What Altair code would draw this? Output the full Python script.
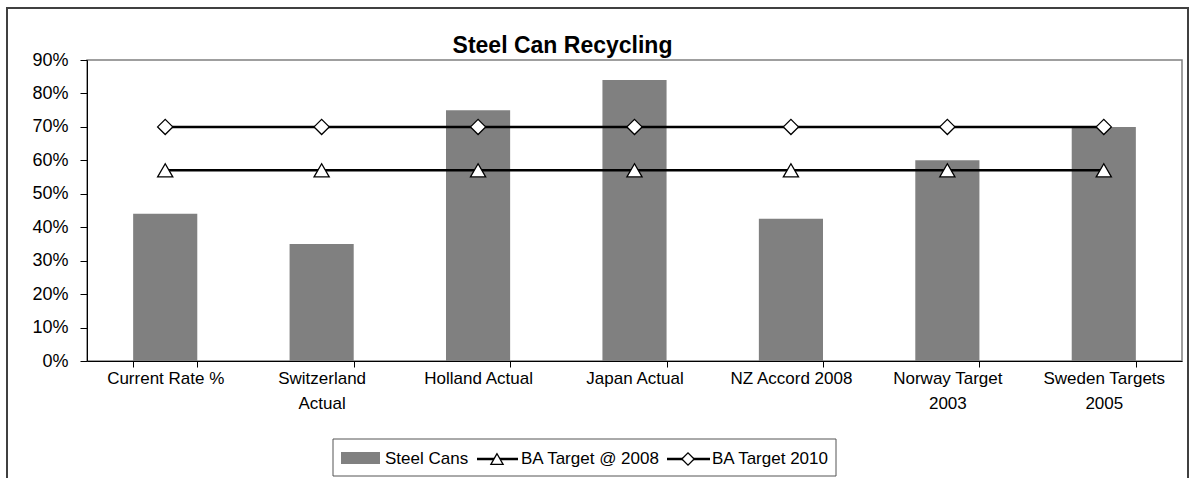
import altair as alt
import pandas as pd

categories = ["Current Rate %", "Switzerland Actual", "Holland Actual", "Japan Actual",
              "NZ Accord 2008", "Norway Target 2003", "Sweden Targets 2005"]
steel_cans = [0.44, 0.35, 0.75, 0.84, 0.425, 0.60, 0.70]
ba_target_2008 = [0.57] * 7
ba_target_2010 = [0.70] * 7
y_ticks = [0.0, 0.1, 0.2, 0.3, 0.4, 0.5, 0.6, 0.7, 0.8, 0.9]

df = pd.DataFrame({
    "category": categories,
    "steel": steel_cans,
    "t2008": ba_target_2008,
    "t2010": ba_target_2010,
})

FONT = "Liberation Sans"
W, H = 1095, 301

xscale = alt.Scale(paddingInner=0.59, paddingOuter=0.295)
xaxis = alt.Axis(title=None, labelAngle=0, labelFont=FONT, labelFontSize=17,
                 labelColor="black", domainColor="black", tickColor="black",
                 tickSize=6, tickBand="extent", labelPadding=3, labelLineHeight=25,
                 labelExpr="length(datum.label) > 15 ? [substring(datum.label, 0, lastindexof(datum.label, ' ')), substring(datum.label, lastindexof(datum.label, ' ') + 1)] : datum.label")
yscale = alt.Scale(domain=[0, 0.9], nice=False)
yaxis = alt.Axis(title=None, format=".0%", values=y_ticks, grid=False, labelOverlap=False,
                 labelFont=FONT, labelFontSize=18, labelColor="black", domainColor="black",
                 tickColor="black", tickSize=7, labelPadding=12)

X = alt.X("category:N", sort=categories, scale=xscale, axis=xaxis)

def Y(field):
    return alt.Y(field, scale=yscale, axis=yaxis)

base = alt.Chart(df)

bars = base.mark_bar(color="#808080").encode(x=X, y=Y("steel:Q"))

line08 = base.mark_line(color="black", strokeWidth=2.5).encode(x=X, y=Y("t2008:Q"))
pts08 = base.mark_point(shape="triangle-up", filled=True, fill="white", stroke="black",
                        strokeWidth=1.3, size=230, opacity=1).encode(x=X, y=Y("t2008:Q"))
line10 = base.mark_line(color="black", strokeWidth=2.5).encode(x=X, y=Y("t2010:Q"))
pts10 = base.mark_point(shape="diamond", filled=True, fill="white", stroke="black",
                        strokeWidth=1.3, size=230, opacity=1).encode(x=X, y=Y("t2010:Q"))

one = alt.Data(values=[{"k": 0}])

outer = alt.Chart(one).mark_rect(fill=None, stroke="#404040", strokeWidth=2).encode(
    x=alt.value(-80), x2=alt.value(1101), y=alt.value(-52), y2=alt.value(440))

leg_box = alt.Chart(one).mark_rect(fill="white", stroke="#555555", strokeWidth=1).encode(
    x=alt.value(246), x2=alt.value(749), y=alt.value(379), y2=alt.value(416))
leg_rect = alt.Chart(one).mark_rect(fill="#808080").encode(
    x=alt.value(254), x2=alt.value(293), y=alt.value(392), y2=alt.value(404))
leg_line1 = alt.Chart(one).mark_rule(color="black", strokeWidth=2.5).encode(
    x=alt.value(390), x2=alt.value(431), y=alt.value(399))
leg_pt1 = alt.Chart(one).mark_point(shape="triangle-up", filled=True, fill="white", stroke="black",
                                    strokeWidth=1.3, size=150, opacity=1).encode(
    x=alt.value(410), y=alt.value(399))
leg_line2 = alt.Chart(one).mark_rule(color="black", strokeWidth=2.5).encode(
    x=alt.value(580), x2=alt.value(623), y=alt.value(399))
leg_pt2 = alt.Chart(one).mark_point(shape="diamond", filled=True, fill="white", stroke="black",
                                    strokeWidth=1.3, size=150, opacity=1).encode(
    x=alt.value(601), y=alt.value(399))

def leg_text(label, xpos):
    return alt.Chart(one).mark_text(align="left", baseline="alphabetic", font=FONT,
                                    fontSize=17, color="black").encode(
        x=alt.value(xpos), y=alt.value(404), text=alt.value(label))

chart = alt.layer(
    outer, bars, line08, pts08, line10, pts10,
    leg_box, leg_rect, leg_line1, leg_pt1, leg_line2, leg_pt2,
    leg_text("Steel Cans", 298), leg_text("BA Target @ 2008", 434), leg_text("BA Target 2010", 625),
).properties(
    width=W, height=H,
    title=alt.TitleParams("Steel Can Recycling", font=FONT, fontSize=23, fontWeight="bold",
                          color="black", anchor="middle", dx=-72, offset=-69,
                          baseline="alphabetic"),
    autosize=alt.AutoSizeParams(type="none"),
    padding={"left": 87, "top": 60, "right": 8, "bottom": 117},
    background="white",
).configure_view(stroke="#808080", strokeWidth=1.5
).configure_axisY(labelOverlap=False, labelBound=False)

chart.save("out.html", embed_options={"renderer": "svg", "actions": False})
